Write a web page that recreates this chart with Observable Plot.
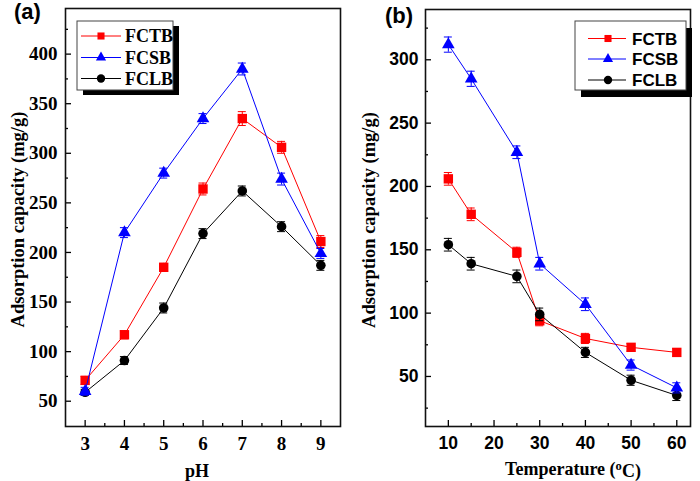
<!DOCTYPE html>
<html><head><meta charset="utf-8">
<script src="https://cdn.jsdelivr.net/npm/d3@7"></script>
<script src="https://cdn.jsdelivr.net/npm/@observablehq/plot@0.6"></script>
<style>
body{margin:0;background:#fff;}
#wrap{position:relative;width:700px;height:481px;overflow:hidden;background:#fff;}
#wrap > svg{position:absolute;top:0;}
</style></head><body>
<div id="wrap"></div>
<script>
// ---------- data ----------
const seriesNames = ["FCTB", "FCSB", "FCLB"];
const seriesColors = ["#ff0000", "#0000ff", "#000000"];
const seriesSymbols = ["square", "triangle", "circle"];

// panel (a): pH
const phX = [3, 4, 5, 6, 7, 8, 9];
const phFCTB = [71, 117, 185, 264, 335, 306, 211];
const phFCSB = [60, 220, 280, 335, 385, 274, 199];
const phFCLB = [59, 91, 144, 219, 262, 226, 187];
const phErrFCTB = [4, 4, 4, 6, 7, 6, 6];
const phErrFCSB = [4, 5, 5, 5, 6, 6, 5];
const phErrFCLB = [3, 4, 5, 5, 5, 5, 5];

// panel (b): temperature
const tempX = [10, 15, 25, 30, 40, 50, 60];
const tempFCTB = [206, 178, 148, 94, 80, 73, 69];
const tempFCSB = [312, 285, 227, 139, 107, 59, 41];
const tempFCLB = [154, 139, 129, 99, 69, 47, 35];
const tempErrFCTB = [5, 5, 4, 4, 4, 3, 3];
const tempErrFCSB = [6, 6, 5, 5, 5, 4, 4];
const tempErrFCLB = [5, 5, 5, 5, 4, 4, 4];

// tick values
const phTicksMajor = [3, 4, 5, 6, 7, 8, 9];
const phTicksMinor = [3.5, 4.5, 5.5, 6.5, 7.5, 8.5];
const capATicksMajor = [50, 100, 150, 200, 250, 300, 350, 400];
const capATicksMinor = [75, 125, 175, 225, 275, 325, 375, 425];
const tempTicksMajor = [10, 20, 30, 40, 50, 60];
const tempTicksMinor = [15, 25, 35, 45, 55];
const capBTicksMajor = [50, 100, 150, 200, 250, 300];
const capBTicksMinor = [25, 75, 125, 175, 225, 275, 325];

// ---------- helpers ----------
function rows(xs, ys, errs) {
  return xs.map((x, i) => ({x, y: ys[i], lo: ys[i] - errs[i], hi: ys[i] + errs[i]}));
}
const serif = "'Liberation Serif','Times New Roman',serif";
const sans = "'Liberation Sans',Arial,sans-serif";
const rSizes = {square: 5.3, triangle: 4.7, circle: 4.8};
const intFmt = d3.format("d");

function seriesMarks(data, color, symbol) {
  return [
    Plot.line(data, {x: "x", y: "y", stroke: color, strokeWidth: 1}),
    Plot.ruleX(data, {x: "x", y1: "lo", y2: "hi", stroke: color, strokeWidth: 1}),
    Plot.ruleY(data, {y: "hi", x1: "x", x2: "x", insetLeft: -4, insetRight: -4, stroke: color, strokeWidth: 1}),
    Plot.ruleY(data, {y: "lo", x1: "x", x2: "x", insetLeft: -4, insetRight: -4, stroke: color, strokeWidth: 1}),
    Plot.dot(data, {x: "x", y: "y", symbol: symbol, fill: color, stroke: "none", r: rSizes[symbol]})
  ];
}

function panel(cfg) {
  const [x0] = cfg.xDomain, [y0] = cfg.yDomain;
  const order = [0, 2, 1];
  return Plot.plot({
    width: 350, height: 481,
    marginLeft: cfg.ml, marginRight: cfg.mr, marginTop: cfg.mt, marginBottom: 481 - 426,
    x: {domain: cfg.xDomain},
    y: {domain: cfg.yDomain},
    style: {background: "transparent", color: "#000", overflow: "visible"},
    marks: [
      Plot.axisX({ticks: cfg.xMajor, tickSize: 0, tickPadding: 10, label: null, tickFormat: intFmt,
        fontSize: cfg.tickFont, fontFamily: cfg.tickFamily, fontWeight: "bold"}),
      Plot.axisY({ticks: cfg.yMajor, tickSize: 0, tickPadding: cfg.yPad, label: null, tickFormat: intFmt,
        fontSize: cfg.tickFont, fontFamily: cfg.tickFamily, fontWeight: "bold"}),
      // inward ticks
      Plot.ruleX(cfg.xMajor, {x: d => d, y1: y0, y2: y0, insetTop: -6, strokeWidth: 1.3}),
      Plot.ruleX(cfg.xMinor, {x: d => d, y1: y0, y2: y0, insetTop: -3, strokeWidth: 1.3}),
      Plot.ruleY(cfg.yMajor, {y: d => d, x1: x0, x2: x0, insetRight: -6, strokeWidth: 1.3}),
      Plot.ruleY(cfg.yMinor, {y: d => d, x1: x0, x2: x0, insetRight: -3, strokeWidth: 1.3}),
      // titles
      Plot.text([cfg.xTitle], {text: d => d, frameAnchor: "bottom", textAnchor: "middle", lineAnchor: "top",
        dy: cfg.xTitleDy, dx: cfg.xTitleDx, fontSize: 18, fontFamily: serif, fontWeight: "bold"}),
      Plot.text(["Adsorption capacity (mg/g)"], {text: d => d, frameAnchor: "left", textAnchor: "middle", rotate: -90,
        lineAnchor: "middle", dx: cfg.yTitleDx, dy: cfg.yTitleDy, fontSize: 18.5, fontFamily: serif, fontWeight: "bold"}),
      ...order.flatMap(i => seriesMarks(cfg.series[i], seriesColors[i], seriesSymbols[i])),
      Plot.frame({stroke: "#111", strokeWidth: 1.6})
    ]
  });
}

const wrap = document.getElementById("wrap");

const svgA = panel({
  xDomain: [2.5, 9.5], yDomain: [24.5, 446],
  ml: 65, mr: 10, mt: 8,
  xMajor: phTicksMajor, xMinor: phTicksMinor, yMajor: capATicksMajor, yMinor: capATicksMinor,
  tickFont: 19, tickFamily: serif, yPad: 8,
  xTitle: "pH", xTitleDy: 38, xTitleDx: -6, yTitleDx: -47, yTitleDy: 2,
  series: [rows(phX, phFCTB, phErrFCTB), rows(phX, phFCSB, phErrFCSB), rows(phX, phFCLB, phErrFCLB)]
});
svgA.style.left = "0px";
wrap.appendChild(svgA);

const svgB = panel({
  xDomain: [5, 63], yDomain: [10.5, 339.7],
  ml: 75, mr: 10, mt: 9,
  xMajor: tempTicksMajor, xMinor: tempTicksMinor, yMajor: capBTicksMajor, yMinor: capBTicksMinor,
  tickFont: 17.5, tickFamily: sans, yPad: 7,
  xTitle: "Temperature (oC)", xTitleDy: 36, xTitleDx: 15, yTitleDx: -56, yTitleDy: 2,
  series: [rows(tempX, tempFCTB, tempErrFCTB), rows(tempX, tempFCSB, tempErrFCSB), rows(tempX, tempFCLB, tempErrFCLB)]
});
svgB.style.left = "350px";
wrap.appendChild(svgB);

// superscript "o" in the temperature title
d3.select(svgB).selectAll("text").filter(function() { return this.textContent === "Temperature (oC)"; })
  .each(function() {
    const t = d3.select(this);
    t.text(null);
    t.append("tspan").text("Temperature (");
    t.append("tspan").attr("dy", "-0.4em").attr("font-size", "0.7em").text("o");
    t.append("tspan").attr("dy", "0.4em").text("C)");
  });

// ---------- overlay: legends and panel letters ----------
const ov = d3.select(wrap).append("svg").attr("width", 700).attr("height", 481)
  .style("left", "0px").style("pointer-events", "none");

function legend(box, rowsY, lineX, markX, textX, font, fsize, msizes) {
  ov.append("rect").attr("x", box.x + box.sx).attr("y", box.y + box.sy).attr("width", box.w).attr("height", box.h).attr("fill", "#000");
  ov.append("rect").attr("x", box.x).attr("y", box.y).attr("width", box.w).attr("height", box.h)
    .attr("fill", "#fff").attr("stroke", "#444").attr("stroke-width", 1);
  const syms = {square: d3.symbolSquare, triangle: d3.symbolTriangle, circle: d3.symbolCircle};
  seriesNames.forEach((name, i) => {
    const y = rowsY[i];
    ov.append("line").attr("x1", lineX[0]).attr("x2", lineX[1]).attr("y1", y).attr("y2", y)
      .attr("stroke", seriesColors[i]).attr("stroke-width", 1);
    ov.append("path").attr("d", d3.symbol(syms[seriesSymbols[i]], msizes[i])())
      .attr("transform", `translate(${markX},${y})`).attr("fill", seriesColors[i]);
    ov.append("text").attr("x", textX).attr("y", y).attr("dy", "0.36em").text(name)
      .attr("font-family", font).attr("font-weight", "bold").attr("font-size", fsize).attr("fill", "#000");
  });
}
legend({x: 77, y: 21, w: 96, h: 69, sx: 6, sy: 5}, [36, 57.5, 78.5], [81, 121], 101, 125, serif, 18, [50, 45, 55]);
legend({x: 575, y: 21, w: 111, h: 69, sx: 6, sy: 7}, [38.5, 59, 80], [588, 626], 608, 632, sans, 17, [50, 45, 55]);

ov.append("text").attr("x", 14).attr("y", 19).text("(a)")
  .attr("font-family", sans).attr("font-weight", "bold").attr("font-size", 22);
ov.append("text").attr("x", 385).attr("y", 23).text("(b)")
  .attr("font-family", sans).attr("font-weight", "bold").attr("font-size", 22);
</script>
</body></html>
